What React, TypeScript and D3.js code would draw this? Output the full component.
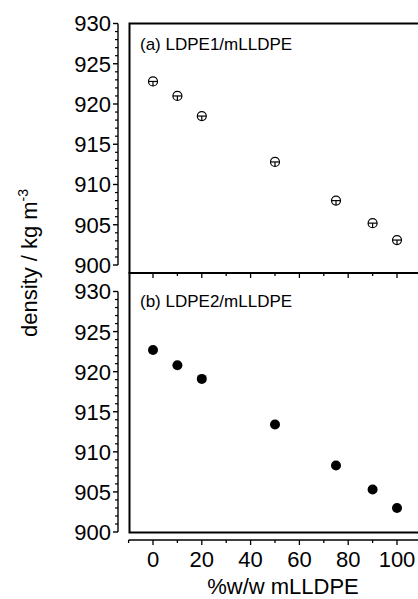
import React from "react";
import * as d3 from "d3";

// %w/w mLLDPE in the blend
const blendPct = [0, 10, 20, 50, 75, 90, 100];
// densities, kg m-3
const densityLDPE1 = [922.8, 921.0, 918.5, 912.8, 908.0, 905.2, 903.1];
const densityLDPE2 = [922.7, 920.8, 919.1, 913.4, 908.3, 905.3, 903.0];
const yTicks = [900, 905, 910, 915, 920, 925, 930];
const xTicks = [0, 20, 40, 60, 80, 100];

const W = 418;
const H = 599;
const FONT = "'Liberation Sans', Arial, sans-serif";

const xScale = d3.scaleLinear().domain([-10, 110]).range([128.6, 421.4]);
const yTop = d3.scaleLinear().domain([900, 930]).range([265, 23.5]);
const yBot = d3.scaleLinear().domain([900, 930]).range([532, 291.5]);

const axisX = 118;
const frameX = 129.5;

const YAxis = ({ scale }: { scale: d3.ScaleLinear<number, number> }) => {
  const minors = d3.range(900, 931, 1).filter((v) => v % 5 !== 0);
  return (
    <g>
      <line x1={axisX} x2={axisX} y1={scale(930)} y2={scale(900)} stroke="#000" strokeWidth={1.4} />
      {yTicks.map((t) => (
        <g key={t}>
          <line x1={axisX - 5} x2={axisX} y1={scale(t)} y2={scale(t)} stroke="#000" strokeWidth={1.4} />
          <text x={axisX - 7} y={scale(t)} dy="0.36em" textAnchor="end" fontSize={22} fontFamily={FONT}>
            {t}
          </text>
        </g>
      ))}
      {minors.map((t) => (
        <line key={t} x1={axisX - 3} x2={axisX} y1={scale(t)} y2={scale(t)} stroke="#000" strokeWidth={1.2} />
      ))}
    </g>
  );
};

const OpenMark = ({ cx, cy }: { cx: number; cy: number }) => (
  <g stroke="#000" strokeWidth={1.2} fill="none">
    <circle cx={cx} cy={cy} r={4.5} />
    <line x1={cx - 4.5} x2={cx + 4.5} y1={cy} y2={cy} />
    <line x1={cx} x2={cx} y1={cy} y2={cy + 4.5} />
  </g>
);

export default function App() {
  const xAll = d3.range(-10, 111, 10);
  const topAxisTicks = d3.range(0, 101, 10);
  const bottomAxisY = 540;
  return (
    <svg width={W} height={H} style={{ position: "absolute", left: 0, top: 0, background: "#fff" }}>
      {/* frames */}
      <rect x={frameX} y={23.5} width={W} height={273 - 23.5} fill="none" stroke="#000" strokeWidth={2} />
      <rect x={frameX} y={273} width={W} height={532.5 - 273} fill="none" stroke="#000" strokeWidth={2} />

      {/* ticks under the top panel */}
      {topAxisTicks.map((t) => (
        <line
          key={t}
          x1={xScale(t)}
          x2={xScale(t)}
          y1={273}
          y2={273 + (t % 20 === 0 ? 5 : 3)}
          stroke="#000"
          strokeWidth={1.3}
        />
      ))}

      <YAxis scale={yTop} />
      <YAxis scale={yBot} />

      {/* bottom x axis */}
      <line x1={xScale(-10)} x2={W} y1={bottomAxisY} y2={bottomAxisY} stroke="#000" strokeWidth={1.4} />
      {xAll.map((t) => (
        <line
          key={t}
          x1={xScale(t)}
          x2={xScale(t)}
          y1={bottomAxisY}
          y2={bottomAxisY + (t % 20 === 0 ? 5 : 3)}
          stroke="#000"
          strokeWidth={1.3}
        />
      ))}
      {xTicks.map((t) => (
        <text key={t} x={xScale(t)} y={567} textAnchor="middle" fontSize={22} fontFamily={FONT}>
          {t}
        </text>
      ))}
      <text x={283} y={594} textAnchor="middle" fontSize={22} fontFamily={FONT}>
        %w/w mLLDPE
      </text>

      {/* y title */}
      <text transform="translate(37,263) rotate(-90)" textAnchor="middle" fontSize={22} fontFamily={FONT}>
        density / kg m<tspan dy={-9} fontSize={14}>-3</tspan>
      </text>

      {/* panel labels */}
      <text x={140} y={50} fontSize={17} fontFamily={FONT}>
        (a) LDPE1/mLLDPE
      </text>
      <text x={140} y={307} fontSize={17} fontFamily={FONT}>
        (b) LDPE2/mLLDPE
      </text>

      {/* data */}
      {blendPct.map((p, i) => (
        <OpenMark key={p} cx={xScale(p)} cy={yTop(densityLDPE1[i])} />
      ))}
      {blendPct.map((p, i) => (
        <circle key={p} cx={xScale(p)} cy={yBot(densityLDPE2[i])} r={5} fill="#000" />
      ))}
    </svg>
  );
}
